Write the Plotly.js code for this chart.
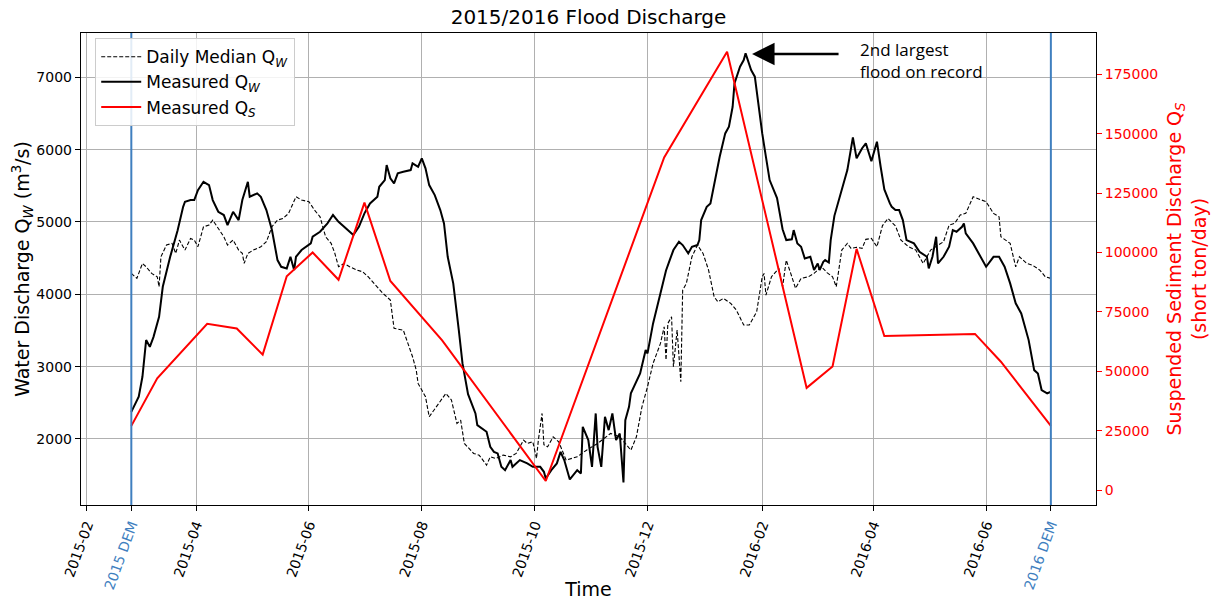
<!DOCTYPE html>
<html>
<head>
<meta charset="utf-8">
<script src="https://cdn.plot.ly/plotly-3.0.1.min.js"></script>
<style>
html,body{margin:0;padding:0;background:#fff;}
#chart{width:1213px;height:600px;}
</style>
</head>
<body>
<div id="chart"></div>
<script>
// ---- Data ----
// Day offsets are days after 2015-02-01.
const startDate = '2015-02-01';

const qwDays = [24,28,30,32,34,36,39,41,45,49,
 52,53,56,58,60,63,66,68,71,74,
 76,79,82,84,87,88,92,94,97,100,
 103,105,108,110,112,113,116,121,122,126,
 130,133,136,139,141,144,147,150,153,157,
 158,161,162,164,166,168,171,175,176,179,
 181,183,185,188,191,193,195,198,201,203,
 206,210,211,216,218,220,222,224,226,229,
 230,234,238,241,245,247,248,251,254,256,
 258,261,265,267,268,271,273,275,276,278,
 280,282,284,286,288,290,291,293,294,299,
 302,303,306,310,313,315,317,320,322,325,
 327,330,331,332,335,337,339,342,345,347,
 349,350,353,355,356,358,359,361,363,365,
 367,369,373,376,378,381,382,384,386,388,
 391,393,395,396,398,399,401,402,404,407,
 411,414,416,419,421,424,427,429,431,434,
 435,437,439,441,443,447,450,454,455,457,
 459,460,463,466,468,470,473,474,475,479,
 482,486,490,493,496,499,502,505,509,512,
 514,516,519,521];

const qwValues = [2375,2583,2860,3367,3274,3412,3689,4104,4519,4882,
 5210,5280,5303,5303,5441,5556,5510,5303,5141,5096,
 4957,5141,5026,5303,5556,5349,5396,5349,5165,4888,
 4473,4380,4358,4519,4335,4519,4612,4704,4796,4865,
 4981,5096,5003,4934,4888,4819,4934,5119,5257,5349,
 5487,5580,5787,5603,5534,5672,5694,5718,5811,5764,
 5880,5741,5510,5372,5165,4981,4519,4151,3505,3045,
 2620,2353,2191,2099,1891,1822,1800,1615,1569,1708,
 1615,1708,1662,1615,1615,1546,1454,1569,1662,1822,
 1708,1440,1569,1523,2168,1984,1615,2353,1891,1615,
 2307,2122,2353,1984,2076,1400,2260,2445,2630,2906,
 3229,3183,3598,4013,4330,4473,4612,4726,4681,4566,
 4658,4681,4750,5026,5210,5257,5534,5902,6225,6317,
 6593,6917,7147,7239,7332,7194,7101,7009,6593,6225,
 5900,5580,5330,4900,4750,4760,4888,4704,4658,4496,
 4519,4335,4427,4335,4450,4473,4440,4750,5085,5370,
 5718,6170,5880,6020,6087,5840,6110,5764,5450,5257,
 5210,5165,5165,5026,4750,4704,4588,4519,4358,4519,
 4796,4427,4519,4658,4888,4865,4934,4981,4842,4704,
 4566,4381,4519,4519,4381,4151,3875,3736,3367,2952,
 2906,2676,2630,2653];

const medDays = [24,27,30,32,35,38,39,40,43,46,
 48,50,53,56,58,60,63,66,68,71,
 74,76,79,82,84,85,87,90,94,97,
 100,103,106,109,112,113,116,120,123,126,
 129,132,134,136,139,142,146,149,152,157,
 160,164,166,171,176,178,179,181,183,185,
 189,194,197,200,202,204,209,212,216,218,
 221,225,229,232,236,238,241,243,244,246,
 247,249,252,255,259,265,270,276,283,288,
 294,297,300,303,306,310,312,313,314,316,
 317,319,321,322,324,327,330,333,336,339,
 341,344,348,351,355,358,362,365,366,367,
 370,374,376,378,381,383,386,390,393,397,
 400,403,405,408,411,413,416,419,421,424,
 427,430,433,437,440,444,448,452,456,459,
 463,466,469,472,475,479,483,486,490,493,
 494,499,502,504,508,511,515,518,521];

const medValues = [4289,4220,4427,4381,4289,4243,4104,4519,4681,4704,
 4566,4750,4612,4773,4750,4658,4934,4957,5026,4911,
 4796,4681,4750,4612,4566,4427,4566,4612,4658,4727,
 4934,5026,5049,5119,5303,5349,5303,5280,5165,5072,
 4796,4704,4566,4381,4427,4381,4335,4312,4243,4104,
 4013,3920,3529,3505,3137,2952,2768,2676,2583,2307,
 2445,2630,2540,2214,2260,1938,1800,1777,1638,1753,
 1730,1777,1753,1800,1984,1938,1961,1730,1984,2353,
 1920,1891,2030,1961,1708,1753,1845,1938,2076,2030,
 1845,2030,2445,2722,3045,3321,3551,3091,3598,3689,
 2999,3505,2790,4058,4151,4519,4681,4566,4335,3966,
 3897,3943,3874,3782,3575,3575,3759,4243,4289,3989,
 4243,4358,4104,4473,4243,4082,4220,4243,4289,4381,
 4300,4243,4104,4612,4704,4635,4650,4635,4760,4773,
 4658,4950,5049,4945,4750,4658,4612,4427,4612,4658,
 4727,4957,4980,5096,5119,5349,5303,5280,5119,5072,
 4796,4704,4381,4519,4427,4404,4335,4243,4220];

const qsDays = [24,38,65,81,95,108,122,136,150,164,192,248,312,346,389,403,416,431,480,494,521];
const qsValues = [27000,47000,70000,68000,57000,90000,100000,88500,121000,88000,63000,3800,140000,184500,43000,52000,101500,64800,65700,54000,27000];

const monthTickDates = ['2015-02-01','2015-04-01','2015-06-01','2015-08-01','2015-10-01','2015-12-01','2016-02-01','2016-04-01','2016-06-01'];
const monthTickLabels = ['2015-02','2015-04','2015-06','2015-08','2015-10','2015-12','2016-02','2016-04','2016-06'];
const demDates = ['2015-02-25','2016-07-06'];
const demLabels = ['2015 DEM','2016 DEM'];
const leftTicks = [2000,3000,4000,5000,6000,7000];
const rightTicks = [0,25000,50000,75000,100000,125000,150000,175000];
const peakArrow = {day: 359.5, value: 7322};

// ---- helpers ----
const t0 = Date.parse(startDate + 'T00:00:00Z');
function dayToDate(d){
  const s = new Date(t0 + d*86400000).toISOString();
  return s.slice(0,10) + ' ' + s.slice(11,16);
}
const DEM_COLOR = '#3f7fbf';

const traces = [
  {x: medDays.map(dayToDate), y: medValues, type:'scatter', mode:'lines',
   name:'Daily Median Q<sub><i>W</i></sub>',
   line:{color:'#000', width:1.1, dash:'4px,2px'}},
  {x: qwDays.map(dayToDate), y: qwValues, type:'scatter', mode:'lines',
   name:'Measured Q<sub><i>W</i></sub>',
   line:{color:'#000', width:2}},
  {x: qsDays.map(dayToDate), y: qsValues, type:'scatter', mode:'lines',
   name:'Measured Q<sub><i>S</i></sub>', yaxis:'y2',
   line:{color:'#ff0000', width:2}}
];

const tickvals = [monthTickDates[0], demDates[0]].concat(monthTickDates.slice(1), [demDates[1]]);
const ticktext = [monthTickLabels[0], '<span style="color:'+DEM_COLOR+'">'+demLabels[0]+'</span>']
  .concat(monthTickLabels.slice(1), ['<span style="color:'+DEM_COLOR+'">'+demLabels[1]+'</span>']);

const layout = {
  width:1213, height:600,
  margin:{l:81, r:117, t:33, b:95},
  paper_bgcolor:'#fff', plot_bgcolor:'#fff',
  font:{family:'DejaVu Sans, sans-serif', size:14, color:'#000'},
  title:{text:'2015/2016 Flood Discharge', font:{size:20, color:'#000'},
         xref:'paper', x:0.5, xanchor:'center', yref:'container', y:1-17/600, yanchor:'middle'},
  showlegend:true,
  legend:{x:0.014, y:0.989, xanchor:'left', yanchor:'top',
          bgcolor:'rgba(255,255,255,0.85)', bordercolor:'#cccccc', borderwidth:1,
          font:{size:17}, tracegroupgap:0, itemwidth:40},
  xaxis:{type:'date', range:[dayToDate(-3.2), dayToDate(545.4)],
         tickmode:'array', tickvals:tickvals, ticktext:ticktext, tickangle:-70,
         ticks:'outside', ticklen:5, tickcolor:'#000', tickfont:{size:14},
         showline:true, linecolor:'#000', linewidth:1.2, mirror:true,
         showgrid:true, gridcolor:'#b0b0b0', gridwidth:1, zeroline:false,
         automargin:false,
         title:{text:'Time', font:{size:19}, standoff:6}},
  yaxis:{range:[1087,7613], tickmode:'array', tickvals:leftTicks,
         ticks:'outside', ticklen:5, tickcolor:'#000', tickfont:{size:14},
         showline:true, linecolor:'#000', linewidth:1.2, mirror:true,
         showgrid:true, gridcolor:'#b0b0b0', gridwidth:1, zeroline:false,
         automargin:false,
         title:{text:'Water Discharge Q<sub><i>W</i></sub> (m<sup>3</sup>/s)', font:{size:19}, standoff:0}},
  yaxis2:{overlaying:'y', side:'right', range:[-6315,192386], tickmode:'array', tickvals:rightTicks,
          tickformat:'d', ticks:'outside', ticklen:5, tickcolor:'#ff0000',
          tickfont:{size:14, color:'#ff0000'}, showgrid:false, zeroline:false, showline:false,
          automargin:false,
          title:{text:'Suspended Sediment Discharge Q<sub><i>S</i></sub><br>(short ton/day)', font:{size:19, color:'#ff0000'}, standoff:10}},
  shapes: demDates.map(d => ({type:'line', xref:'x', yref:'paper', x0:d, x1:d, y0:0, y1:1,
                              line:{color:DEM_COLOR, width:2}, layer:'above'})),
  annotations:[
    {xref:'paper', yref:'paper', x:(858-81)/1015, y:(505-36)/472, xanchor:'left', yanchor:'top',
     align:'left', showarrow:false, text:'2nd largest<br>flood on record',
     font:{family:'Open Sans, sans-serif', size:17, color:'#000'}},
    {xref:'x', yref:'y', x:dayToDate(peakArrow.day), y:peakArrow.value, text:'',
     showarrow:true, ax:88, ay:0, arrowhead:2, arrowsize:1.8, arrowwidth:2.5, arrowcolor:'#000', standoff:0}
  ]
};

Plotly.newPlot('chart', traces, layout, {displayModeBar:false, staticPlot:true});
</script>
</body>
</html>
